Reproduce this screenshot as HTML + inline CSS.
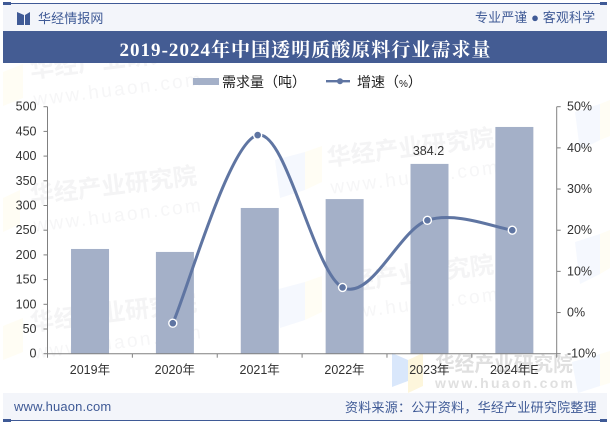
<!DOCTYPE html>
<html lang="zh">
<head>
<meta charset="utf-8">
<title>2019-2024年中国透明质酸原料行业需求量</title>
<style>
html,body{margin:0;padding:0;background:#fff;width:610px;height:423px;overflow:hidden}
svg{display:block}
text{font-family:"Liberation Sans","Noto Sans CJK SC",sans-serif}
.wm{font-weight:700;font-size:24px;fill:#f4f4f5}
.wu{font-size:19px;letter-spacing:2.4px;fill:#f6f6f7}
.tick{font-size:12.5px;fill:#333}
.lb{fill:#f5f8fe}
.ly{fill:#fffdf4}
</style>
</head>
<body>
<svg id="chart" xmlns="http://www.w3.org/2000/svg" width="610" height="423" viewBox="0 0 610 423">
  <g id="watermarks">
    <g>
      <polygon class="ly" points="3,72 23,64 23,98 3,106"/>
      <polygon class="ly" points="3,198 20,190 20,224 3,232"/>
      <polygon class="ly" points="3,326 23,318 23,352 3,360"/>
      <polygon class="lb" points="275,160 305,152 305,190 280,198"/>
      <polygon class="ly" points="305,152 322,146 322,182 305,190"/>
      <polygon class="lb" points="275,290 305,282 305,320 280,328"/>
      <polygon class="ly" points="305,282 322,276 322,312 305,320"/>
      <polygon class="lb" points="575,112 600,104 600,140 580,150"/>
      <polygon class="ly" points="600,104 610,100 610,136 600,140"/>
      <polygon class="lb" points="575,242 600,234 600,274 580,284"/>
      <polygon class="ly" points="600,234 610,230 610,268 600,274"/>
      <polygon points="572,362 600,354 600,386 578,393" fill="#f3f7fe"/>
      <polygon points="600,354 610,351 610,383 600,386" fill="#fffdf4"/>
    </g>
    <g transform="translate(31,78) rotate(-7)"><text class="wm" y="0">华经产业研究院</text><text class="wu" y="28">www.huaon.com</text></g>
    <g transform="translate(31,204) rotate(-7)"><text class="wm" y="0">华经产业研究院</text><text class="wu" y="28">www.huaon.com</text></g>
    <g transform="translate(31,331) rotate(-7)"><text class="wm" y="0">华经产业研究院</text><text class="wu" y="28">www.huaon.com</text></g>
    <g transform="translate(328,166) rotate(-7)"><text class="wm" y="0">华经产业研究院</text><text class="wu" y="28">www.huaon.com</text></g>
    <g transform="translate(328,293) rotate(-7)"><text class="wm" y="0">华经产业研究院</text><text class="wu" y="28">www.huaon.com</text></g>
    <polygon points="392,353 408,360 408,381 392,387" fill="#d9e7fb"/>
    <polygon points="408,360 423,353 423,386 408,393" fill="#fdf6dc"/>
    <text x="435" y="371" font-size="19.7" font-weight="700" fill="#e0e0e0">华经产业研究院</text>
    <text x="435" y="388" font-size="14" font-weight="700" textLength="138" fill="#e0e0e0">www.huaon.com</text>
  </g>

  <rect x="3" y="3" width="604" height="28" fill="#f3f5fa"/>
  <rect x="3" y="3" width="604" height="1" fill="#3f5a96"/>
  <rect x="3" y="2" width="8" height="3" fill="#3f5a96"/>
  <rect x="600" y="2" width="7" height="3" fill="#3f5a96"/>
  <g>
    <polygon points="17,12 24,15 24,25 17,25" fill="#3f5a96"/>
    <polygon points="30,12 25,15 25,25 30,25" fill="#3f5a96"/>
  </g>
  <text x="38" y="23" font-size="13" letter-spacing="0.1" fill="#3f5a96">华经情报网</text>
  <text x="475" y="22" font-size="13" letter-spacing="0.1" fill="#3f5a96">专业严谨 ● 客观科学</text>

  <rect x="3" y="31" width="604" height="32" fill="#445c93"/>
  <text x="305" y="56" text-anchor="middle" font-size="19" font-weight="700" fill="#fff" style='font-family:"Liberation Serif","Noto Serif CJK SC",serif' textLength="371" lengthAdjust="spacing">2019-2024年中国透明质酸原料行业需求量</text>

  <g>
    <rect x="193" y="78" width="26" height="7" fill="#a4b0c8"/>
    <text x="222" y="87" font-size="14" fill="#222">需求量（吨）</text>
    <rect x="326" y="80" width="24" height="2.4" fill="#5f75a2"/>
    <circle cx="340" cy="81.2" r="3" fill="#5f75a2"/>
    <text x="357" y="87" font-size="14" fill="#222">增速（<tspan font-size="10">%</tspan>）</text>
  </g>

  <g id="bars"></g>
  <g id="axes"></g>
  <g id="line"></g>

  <rect x="3" y="393" width="604" height="27" fill="#f3f5fa"/>
  <rect x="3" y="420" width="604" height="1" fill="#3f5a96"/>
  <rect x="3" y="419" width="8" height="3" fill="#3f5a96"/>
  <rect x="600" y="419" width="7" height="3" fill="#3f5a96"/>
  <text x="14" y="411" font-size="13" letter-spacing="0.15" fill="#3f5a96">www.huaon.com</text>
  <text x="345" y="412" font-size="13" letter-spacing="0.26" fill="#3f5a96">资料来源：公开资料，华经产业研究院整理</text>
</svg>
<script>
var categories = ['2019年', '2020年', '2021年', '2022年', '2023年', '2024年E'];
var demandValues = [212, 206, 295, 313, 384.2, 459];
var growthValues = [null, -2.6, 43.1, 6.1, 22.4, 20];
var demandTicks = [0, 50, 100, 150, 200, 250, 300, 350, 400, 450, 500];
var growthTicks = [-10, 0, 10, 20, 30, 40, 50];
var demandLabels = [null, null, null, null, '384.2', null];

var NS = 'http://www.w3.org/2000/svg';
var plot = { left: 47.5, right: 556.7, top: 106.7, bottom: 353.7 };
var band = (plot.right - plot.left) / categories.length;

function xBand(i) { return plot.left + band * (i + 0.5); }
function yDemand(v) { return plot.bottom - (v / 500) * (plot.bottom - plot.top); }
function yGrowth(v) { return plot.bottom - ((v + 10) / 60) * (plot.bottom - plot.top); }

function make(tag, attrs, parent) {
  var el = document.createElementNS(NS, tag);
  for (var k in attrs) { el.setAttribute(k, attrs[k]); }
  parent.appendChild(el);
  return el;
}

var barsG = document.getElementById('bars');
var axesG = document.getElementById('axes');
var lineG = document.getElementById('line');

categories.forEach(function (c, i) {
  var cx = xBand(i) + 0.1;
  var top = yDemand(demandValues[i]);
  var bar = make('rect', { x: cx - 19, y: top, width: 38, height: plot.bottom - top, fill: '#a4b0c8' }, barsG);
  
  
  if (demandLabels[i]) {
    var lab = make('text', { x: cx - 1, y: top - 9, 'text-anchor': 'middle', class: 'tick' }, barsG);
    lab.textContent = demandLabels[i];
    
    
  }
  var t = make('text', { x: xBand(i), y: 374, 'text-anchor': 'middle', class: 'tick' }, axesG);
  t.textContent = c;
  
  
});

var axisColor = '#808080';
var leftAxis = make('path', { d: 'M' + plot.left + ' ' + plot.top + 'V' + plot.bottom, stroke: axisColor, fill: 'none' }, axesG);


var rightAxis = make('path', { d: 'M' + plot.right + ' ' + plot.top + 'V' + plot.bottom, stroke: axisColor, fill: 'none' }, axesG);


var baseAxis = make('path', { d: 'M' + plot.left + ' ' + plot.bottom + 'H' + plot.right, stroke: axisColor, fill: 'none' }, axesG);



for (var b = 0; b <= categories.length; b++) {
  var bx = plot.left + band * b;
  var bt = make('path', { d: 'M' + bx + ' ' + plot.bottom + 'v4', stroke: axisColor, fill: 'none' }, axesG);
  
  
}

demandTicks.forEach(function (v) {
  var y = yDemand(v);
  var tk = make('path', { d: 'M' + (plot.left - 4) + ' ' + y + 'h4', stroke: axisColor, fill: 'none' }, axesG);
  
  
  var tx = make('text', { x: 36.5, y: y + 4, 'text-anchor': 'end', class: 'tick' }, axesG);
  tx.textContent = String(v);
  
  
});

growthTicks.forEach(function (v) {
  var y = yGrowth(v);
  var tk = make('path', { d: 'M' + plot.right + ' ' + y + 'h4', stroke: axisColor, fill: 'none' }, axesG);
  
  
  var tx = make('text', { x: 567, y: y + 4, 'text-anchor': 'start', class: 'tick' }, axesG);
  tx.textContent = v + '%';
  
  
});

var pts = [];
growthValues.forEach(function (v, i) {
  if (v !== null) { pts.push({ x: xBand(i) - 2, y: yGrowth(v) }); }
});

var tension = 0.5;
var d = 'M' + pts[0].x + ' ' + pts[0].y;
for (var i = 0; i < pts.length - 1; i++) {
  var p0 = pts[Math.max(i - 1, 0)];
  var p1 = pts[i];
  var p2 = pts[i + 1];
  var p3 = pts[Math.min(i + 2, pts.length - 1)];
  var c1x = p1.x + (p2.x - p0.x) * tension / 3;
  var c1y = p1.y + (p2.y - p0.y) * tension / 1.5 / 2;
  var c2x = p2.x - (p3.x - p1.x) * tension / 3;
  var c2y = p2.y - (p3.y - p1.y) * tension / 1.5 / 2;
  d += 'C' + c1x + ' ' + c1y + ' ' + c2x + ' ' + c2y + ' ' + p2.x + ' ' + p2.y;
}
var curve = make('path', { d: d, fill: 'none', stroke: '#5f75a2', 'stroke-width': 3 }, lineG);



pts.forEach(function (p) {
  var m = make('circle', { cx: p.x, cy: p.y, r: 4, fill: '#5f75a2', stroke: '#fff', 'stroke-width': 1.4 }, lineG);
  
  
});
</script>
</body>
</html>
